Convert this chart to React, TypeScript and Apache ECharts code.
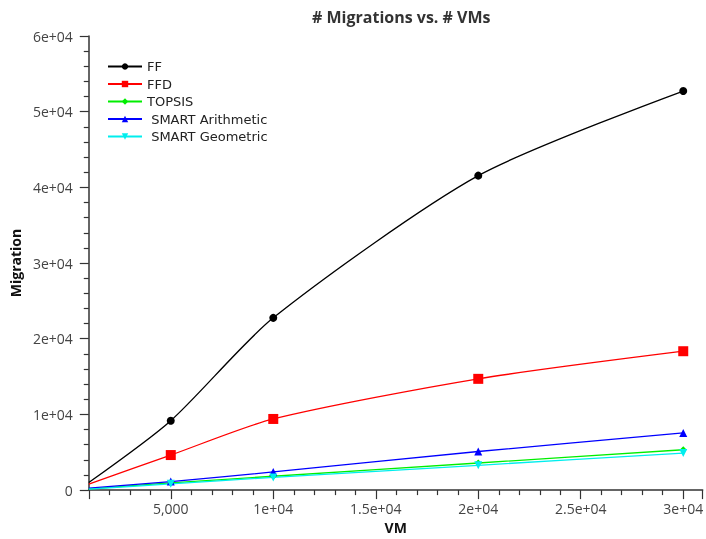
import React, { useEffect, useRef } from "react";
import * as echarts from "echarts";

const vmCounts = [1000, 5000, 10000, 20000, 30000];
const ffValues = [1000, 9170, 22760, 41550, 52730];
const ffdValues = [800, 4630, 9400, 14700, 18350];
const topsisValues = [150, 950, 1830, 3580, 5330];
const smartArithValues = [250, 1120, 2400, 5100, 7550];
const smartGeoValues = [120, 830, 1680, 3280, 4890];

const seriesNames = ["FF", "FFD", "TOPSIS", " SMART Arithmetic", " SMART Geometric"];
const seriesColors = ["#000000", "#ff0000", "#00ee00", "#0000ff", "#00eeee"];
const seriesSymbols = ["circle", "rect", "diamond", "triangle", "path://M0,0 L10,0 L5,10 Z"];
const seriesSizes = [8, 10, 7, 8, 8];
const seriesValues = [ffValues, ffdValues, topsisValues, smartArithValues, smartGeoValues];

const yTicks = { min: 0, max: 60000, interval: 10000 };

function fmt(v: number): string {
  if (v === 0) return "0";
  if (Math.abs(v) < 10000) return v.toLocaleString("en-US");
  const e = Math.floor(Math.log10(Math.abs(v)));
  const m = +(v / Math.pow(10, e)).toPrecision(6);
  const es = (e < 10 ? "0" : "") + e;
  return `${m}e+${es}`;
}

export default function App() {
  const ref = useRef<HTMLDivElement>(null);
  useEffect(() => {
    if (!ref.current) return;
    const chart = echarts.init(ref.current, undefined, { renderer: "svg" });
    const font = "'Open Sans', 'DejaVu Sans', sans-serif";
    const axisColor = "#333";
    chart.setOption({
      animation: false,
      textStyle: { fontFamily: font },
      title: {
        text: "# Migrations vs. # VMs",
        left: 307,
        top: 4,
        textStyle: { fontSize: 16, fontWeight: "bold", color: "#333", fontFamily: font },
      },
      legend: {
        orient: "vertical",
        left: 102,
        top: 55,
        itemWidth: 34,
        itemHeight: 8,
        itemGap: 4.5,
        textStyle: { fontSize: 13, color: "#222", fontFamily: "'DejaVu Sans', sans-serif" },
        data: seriesNames,
      },
      grid: { left: 83, right: 0, top: 36, bottom: 45, containLabel: false },
      xAxis: {
        type: "value",
        min: 1000,
        max: 30950,
        minInterval: 5000,
        maxInterval: 5000,
        name: "VM",
        nameLocation: "middle",
        nameGap: 29,
        nameTextStyle: { fontSize: 14, fontWeight: "bold", color: "#111", fontFamily: font },
        axisLine: { lineStyle: { color: axisColor, width: 1.5 } },
        axisTick: { show: true, length: 9, lineStyle: { color: axisColor, width: 1.2 } },
        minorTick: { show: true, splitNumber: 5, length: 5, lineStyle: { color: axisColor, width: 1.2 } },
        axisLabel: {
          showMinLabel: false,
          showMaxLabel: false,
          margin: 11,
          fontSize: 14,
          color: "#444",
          formatter: (v: number) => (v % 5000 === 0 ? fmt(v) : ""),
        },
        splitLine: { show: false },
      },
      yAxis: {
        type: "value",
        min: yTicks.min,
        max: yTicks.max,
        interval: yTicks.interval,
        name: "Migration",
        nameLocation: "middle",
        nameGap: 61,
        nameTextStyle: { fontSize: 14, fontWeight: "bold", color: "#111", fontFamily: font },
        axisLine: { show: true, lineStyle: { color: axisColor, width: 1.5 } },
        axisTick: { show: true, length: 9, lineStyle: { color: axisColor, width: 1.2 } },
        minorTick: { show: true, splitNumber: 5, length: 5, lineStyle: { color: axisColor, width: 1.2 } },
        axisLabel: { margin: 16, fontSize: 14, color: "#444", formatter: (v: number) => fmt(v) },
        splitLine: { show: false },
      },
      series: seriesNames.map((name, i) => ({
        name,
        type: "line",
        smooth: 0.25,
        color: seriesColors[i],
        symbol: seriesSymbols[i],
        symbolSize: seriesSizes[i],
        showAllSymbol: true,
        lineStyle: { width: 1.3, color: seriesColors[i] },
        itemStyle: { color: seriesColors[i] },
        data: vmCounts.map((x, j) =>
          j === 0 ? { value: [x, seriesValues[i][j]], symbol: "none" } : [x, seriesValues[i][j]]
        ),
      })),
    });
    return () => chart.dispose();
  }, []);
  return <div ref={ref} style={{ width: 706, height: 539, position: "fixed", left: 0, top: 0 }} />;
}
